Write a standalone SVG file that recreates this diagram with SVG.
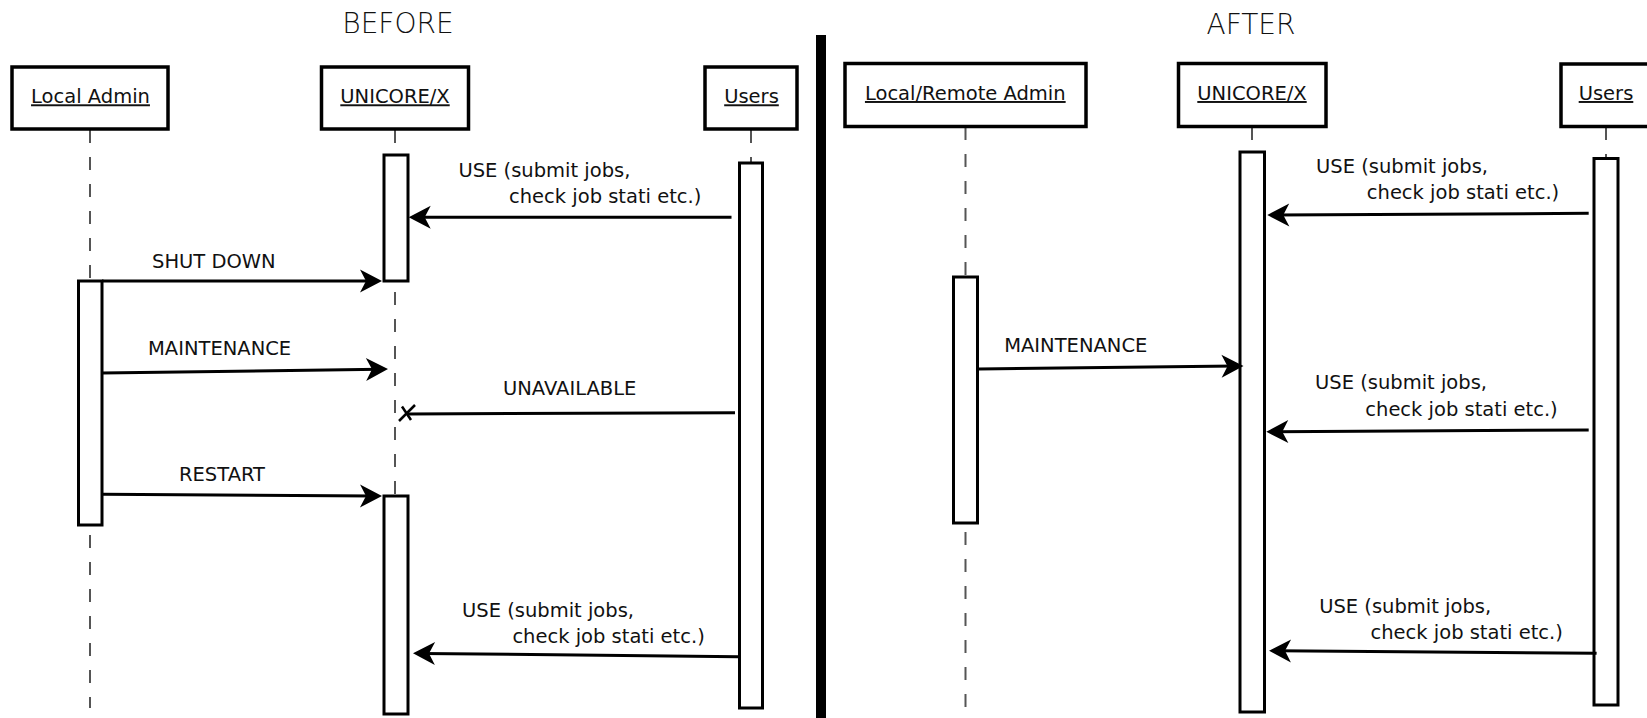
<svg xmlns="http://www.w3.org/2000/svg" width="1647" height="718" viewBox="0 0 1647 718">
<style>
  .box { fill: #fff; stroke: #000; stroke-width: 3.5; }
  .act { fill: #fff; stroke: #000; stroke-width: 3; }
  .life { stroke: #555; stroke-width: 2; stroke-dasharray: 13 14; fill: none; }
  .msg { stroke: #000; stroke-width: 3; fill: none; marker-end: url(#arrow); }
  .lbl { font-family: "DejaVu Sans", "Liberation Sans", sans-serif; font-size: 19.5px; fill: #111; }
  .name { font-family: "DejaVu Sans", "Liberation Sans", sans-serif; font-size: 19.5px; fill: #111; text-anchor: middle; text-decoration: underline; }
  .title { font-family: "DejaVu Sans", "Liberation Sans", sans-serif; font-size: 28px; font-weight: 200; fill: #111; text-anchor: middle; }
</style>
<defs>
  <marker id="arrow" markerUnits="userSpaceOnUse" viewBox="-16 -13 26 26" refX="0" refY="0" markerWidth="26" markerHeight="26" orient="auto">
    <path d="M8,0 L-14,-11.5 L-8,0 L-14,11.5 Z" fill="#000"/>
  </marker>
</defs>
<rect width="1647" height="718" fill="#fff"/>

<g id="titles">
  <text class="title" x="398" y="33">BEFORE</text>
  <text class="title" x="1251" y="34">AFTER</text>
</g>
<rect id="divider" x="816" y="35" width="10" height="683" fill="#000"/>

<g id="lifelines">
  <line class="life" x1="90" y1="130" x2="90" y2="708"/>
  <line class="life" x1="395" y1="130" x2="395" y2="718"/>
  <line class="life" x1="751" y1="130" x2="751" y2="708"/>
  <line class="life" x1="965.5" y1="127" x2="965.5" y2="707"/>
  <line class="life" x1="1252" y1="127" x2="1252" y2="712"/>
  <line class="life" x1="1606" y1="127" x2="1606" y2="705"/>
</g>

<g id="before-local-admin">
  <rect class="box" x="12" y="67" width="156" height="62"/>
  <text class="name" x="90.5" y="103.3">Local Admin</text>
  <rect class="act" x="78.5" y="281" width="23.5" height="244"/>
</g>
<g id="before-unicore">
  <rect class="box" x="321.5" y="67" width="147" height="62"/>
  <text class="name" x="395" y="103.3">UNICORE/X</text>
  <rect class="act" x="384" y="155" width="24" height="126"/>
  <rect class="act" x="384" y="496" width="24" height="218"/>
</g>
<g id="before-users">
  <rect class="box" x="705" y="67" width="92" height="62"/>
  <text class="name" x="751.5" y="103.3">Users</text>
  <rect class="act" x="739.5" y="163" width="23" height="545"/>
</g>

<g id="after-admin">
  <rect class="box" x="845" y="63.5" width="241" height="63"/>
  <text class="name" x="965.3" y="100">Local/Remote Admin</text>
  <rect class="act" x="953.5" y="277" width="24" height="246"/>
</g>
<g id="after-unicore">
  <rect class="box" x="1178.5" y="63.5" width="147.5" height="63"/>
  <text class="name" x="1252" y="100">UNICORE/X</text>
  <rect class="act" x="1240" y="152" width="24.5" height="560"/>
</g>
<g id="after-users">
  <rect class="box" x="1561" y="64" width="100" height="62.5"/>
  <text class="name" x="1606" y="100">Users</text>
  <rect class="act" x="1594" y="158.5" width="24" height="546.5"/>
</g>

<g id="connectors">
  <line class="msg" x1="731.5" y1="217.3" x2="416.7" y2="217.3"/>
  <line class="msg" x1="102" y1="281" x2="374" y2="281"/>
  <line class="msg" x1="102" y1="373" x2="380" y2="369.2"/>
  <line x1="735" y1="412.7" x2="408" y2="414" stroke="#000" stroke-width="3"/>
  <line x1="399" y1="421" x2="415" y2="405" stroke="#000" stroke-width="2.5"/>
  <line x1="402" y1="406.5" x2="411" y2="420" stroke="#000" stroke-width="2.5"/>
  <line class="msg" x1="102" y1="494.3" x2="374" y2="496"/>
  <line class="msg" x1="738.5" y1="656.7" x2="421" y2="653.4"/>

  <line class="msg" x1="1588.7" y1="213.3" x2="1275.3" y2="215"/>
  <line class="msg" x1="978.8" y1="369" x2="1235.5" y2="366.1"/>
  <line class="msg" x1="1588.7" y1="430" x2="1274.3" y2="431.7"/>
  <line class="msg" x1="1596.6" y1="653.3" x2="1277" y2="650.8"/>
</g>

<g id="labels">
  <text class="lbl" x="458.4" y="176.7">USE (submit jobs,</text>
  <text class="lbl" x="509" y="202.7">check job stati etc.)</text>
  <text class="lbl" x="152" y="267.7">SHUT DOWN</text>
  <text class="lbl" x="148" y="355">MAINTENANCE</text>
  <text class="lbl" x="503" y="395">UNAVAILABLE</text>
  <text class="lbl" x="179" y="480.7">RESTART</text>
  <text class="lbl" x="462" y="616.7">USE (submit jobs,</text>
  <text class="lbl" x="512.4" y="643.3">check job stati etc.)</text>

  <text class="lbl" x="1316" y="172.7">USE (submit jobs,</text>
  <text class="lbl" x="1366.8" y="199.3">check job stati etc.)</text>
  <text class="lbl" x="1004.2" y="351.7">MAINTENANCE</text>
  <text class="lbl" x="1315" y="389.3">USE (submit jobs,</text>
  <text class="lbl" x="1365.3" y="416">check job stati etc.)</text>
  <text class="lbl" x="1319.2" y="612.7">USE (submit jobs,</text>
  <text class="lbl" x="1370.5" y="639.3">check job stati etc.)</text>
</g>
</svg>
